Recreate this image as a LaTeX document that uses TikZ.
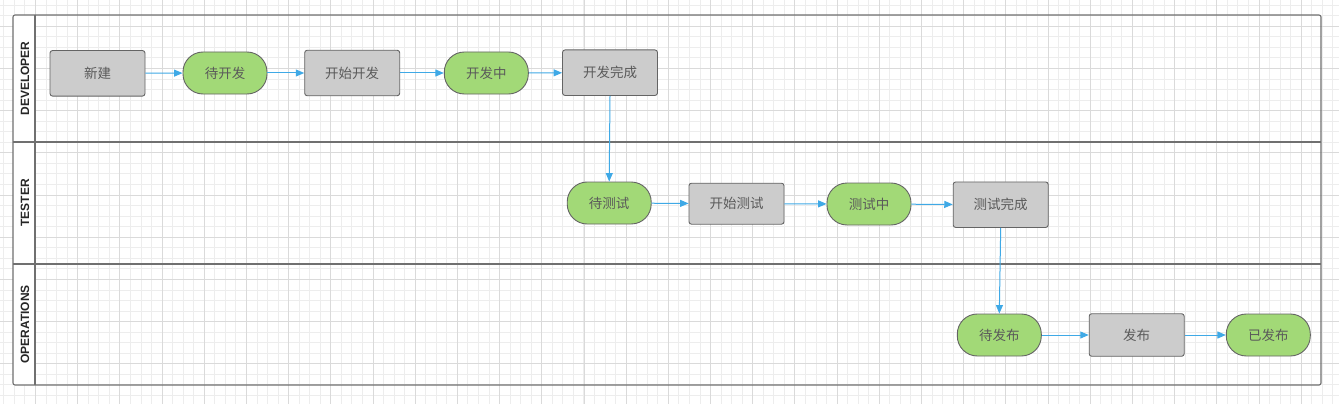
\documentclass[tikz,border=0pt]{standalone}
\usepackage{fontspec}
\setmainfont{Liberation Sans}
\newfontfamily\cjk{Noto Sans CJK SC}
\usetikzlibrary{arrows.meta}
\definecolor{gridminor}{HTML}{EDEDED}
\definecolor{gridmajor}{HTML}{DADADA}
\definecolor{lanec}{HTML}{707070}
\definecolor{boxgray}{HTML}{CCCCCC}
\definecolor{boxgreen}{HTML}{A2D977}
\definecolor{bordc}{HTML}{646464}
\definecolor{txtc}{HTML}{5A5A5A}
\definecolor{arrc}{HTML}{3FA9E6}
\tikzset{
  x=1pt,y=-1pt,
  grayrect/.style={draw=bordc,fill=boxgray,line width=0.9pt,rounded corners=2.5pt,
    minimum width=95pt,inner sep=0pt,font=\cjk\fontsize{13.5}{16}\selectfont,text=txtc},
  greenpill/.style={draw=bordc,fill=boxgreen,line width=0.9pt,rounded corners=20pt,
    minimum width=84pt,minimum height=42pt,inner sep=0pt,font=\cjk\fontsize{13.5}{16}\selectfont,text=txtc},
  flow/.style={draw=arrc,line width=1pt,-{Triangle[length=8.5pt,width=7pt]}},
  lanelabel/.style={rotate=90,font=\bfseries\fontsize{12}{14}\selectfont,text=black!85},
}
\begin{document}
\begin{tikzpicture}
\useasboundingbox (0,0) rectangle (1339,404);
\fill[white] (0,0) rectangle (1339,404);
% grid
\foreach \n in {0,...,128} {\draw[gridminor,line width=0.9pt] ({-6.7+10.547*\n},0) -- ({-6.7+10.547*\n},404);}
\foreach \n in {0,...,39} {\draw[gridminor,line width=0.9pt] (0,{-5.35+10.547*\n}) -- (1339,{-5.35+10.547*\n});}
\foreach \n in {0,...,32} {\draw[gridmajor,line width=0.9pt] ({-6.7+42.19*\n},0) -- ({-6.7+42.19*\n},404);}
\foreach \n in {0,...,9} {\draw[gridmajor,line width=0.9pt] (0,{26.3+42.19*\n}) -- (1339,{26.3+42.19*\n});}
% lanes
\fill[white,rounded corners=2pt] (13,15) rectangle (35,385);
\draw[lanec,line width=1.1pt,rounded corners=2pt] (13,15) rectangle (1321,385);
\draw[lanec,line width=1.1pt] (35,15) -- (35,385);
\draw[lanec,line width=1.1pt] (13,142) -- (1321,142);
\draw[lanec,line width=1.1pt] (13,264) -- (1321,264);
\node[lanelabel] (l1) at (25,78.5) {DEVELOPER};
\node[lanelabel] (l2) at (25,203) {TESTER};
\node[lanelabel] (l3) at (25,324.5) {OPERATIONS};
% nodes
\node[grayrect,minimum height=45.5pt] (n1) at (97.5,73.3) {新建};
\node[greenpill] (n2) at (225,73) {待开发};
\node[grayrect,minimum height=45.5pt] (n3) at (352.2,73) {开始开发};
\node[greenpill] (n4) at (486.3,73) {开发中};
\node[grayrect,minimum height=45.5pt] (n5) at (610,72.7) {开发完成};
\node[greenpill] (n6) at (609.2,203) {待测试};
\node[grayrect,minimum height=41pt] (n7) at (736.5,203.7) {开始测试};
\node[greenpill] (n8) at (869,204) {测试中};
\node[grayrect,minimum height=45.5pt] (n9) at (1000.7,204.7) {测试完成};
\node[greenpill] (n10) at (999.3,335) {待发布};
\node[grayrect,minimum height=42.5pt] (n11) at (1136.7,335) {发布};
\node[greenpill] (n12) at (1268.3,335) {已发布};
% arrows
\draw[flow] (n1) -- (n2);
\draw[flow] (n2) -- (n3);
\draw[flow] (n3) -- (n4);
\draw[flow] (n4) -- (n5);
\draw[flow] (n5.south) -- (n6.north);
\draw[flow] (n6) -- (n7);
\draw[flow] (n7) -- (n8);
\draw[flow] (n8) -- (n9);
\draw[flow] (n9.south) -- (n10.north);
\draw[flow] (n10) -- (n11);
\draw[flow] (n11) -- (n12);
\end{tikzpicture}
\end{document}
